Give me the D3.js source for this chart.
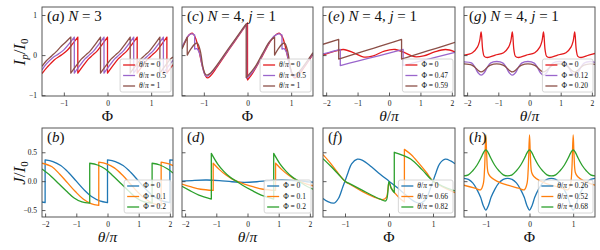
<!DOCTYPE html>
<html><head><meta charset="utf-8">
<script src="https://cdn.jsdelivr.net/npm/d3@7"></script>
<style>body{margin:0;background:#fff} svg{display:block} text{font-family:"Liberation Serif","DejaVu Serif",serif;fill:#111}</style>
</head><body><script>
// ---------- DATA ----------
const phiTicks=[-1,0,1], thTicks=[-2,-1,0,1,2], topYTicks=[-1,0,1], botYTicks=[-0.5,0,0.5];
const panelLabels=["(a) N = 3","(c) N = 4, j = 1","(e) N = 4, j = 1","(g) N = 4, j = 1","(b)","(d)","(f)","(h)"];
const legA=["θ/π = 0","θ/π = 0.5","θ/π = 1"];
const legC=["θ/π = 0","θ/π = 0.5","θ/π = 1"];
const legE=["Φ = 0","Φ = 0.47","Φ = 0.59"];
const legG=["Φ = 0","Φ = 0.12","Φ = 0.20"];
const legB=["Φ = 0","Φ = 0.1","Φ = 0.2"];
const legD=["Φ = 0","Φ = 0.1","Φ = 0.2"];
const legF=["θ/π = 0","θ/π = 0.66","θ/π = 0.82"];
const legH=["θ/π = 0.26","θ/π = 0.52","θ/π = 0.68"];

// panel a: I_p/I_0 vs Phi, N=3
const aRed=[[-1.5,-0.46],[-1.38,-0.3],[-1.22,-0.12],[-1.06,0.0],[-0.92,0.12],[-0.8,0.28],[-0.68,0.45],
[-0.68,-0.45],[-0.56,-0.27],[-0.44,-0.1],[-0.34,0],[-0.24,0.1],[-0.12,0.27],[0,0.45],
[0,-0.45],[0.12,-0.27],[0.24,-0.1],[0.34,0],[0.44,0.1],[0.56,0.27],[0.68,0.45],
[0.68,-0.45],[0.8,-0.27],[0.92,-0.1],[1.02,0],[1.12,0.1],[1.24,0.27],[1.36,0.45],
[1.36,-0.45],[1.48,-0.27],[1.5,-0.24]];
const aPurple=[[-1.5,-0.37],[-1.4,-0.22],[-1.26,-0.07],[-1.12,0.03],[-1.0,0.13],[-0.88,0.28],[-0.76,0.45],
[-0.76,-0.45],[-0.64,-0.27],[-0.52,-0.1],[-0.42,0],[-0.32,0.1],[-0.2,0.27],[-0.08,0.45],
[-0.08,-0.45],[0.04,-0.27],[0.16,-0.1],[0.26,0],[0.36,0.1],[0.48,0.27],[0.6,0.45],
[0.6,-0.45],[0.72,-0.27],[0.84,-0.1],[0.94,0],[1.04,0.1],[1.16,0.27],[1.28,0.45],
[1.28,-0.45],[1.4,-0.27],[1.5,-0.13]];
const aBrown=[[-1.5,-0.28],[-1.4,-0.14],[-1.28,-0.02],[-1.18,0.08],[-1.06,0.22],[-0.96,0.32],[-0.84,0.45],
[-0.84,-0.45],[-0.72,-0.27],[-0.6,-0.1],[-0.5,0],[-0.4,0.1],[-0.28,0.27],[-0.16,0.45],
[-0.16,-0.45],[-0.04,-0.27],[0.08,-0.1],[0.18,0],[0.28,0.1],[0.4,0.27],[0.52,0.45],
[0.52,-0.45],[0.64,-0.27],[0.76,-0.1],[0.86,0],[0.96,0.1],[1.08,0.27],[1.2,0.45],
[1.2,-0.45],[1.32,-0.27],[1.44,-0.1],[1.5,-0.05]];

// panel c
const cRed=[[-1.5,0.18],[-1.42,0.35],[-1.34,0.5],[-1.27,0.55],[-1.2,0.45],[-1.12,0.15],[-1.04,-0.25],[-0.97,-0.5],[-0.92,-0.57],[-0.85,-0.52],[-0.7,-0.3],[-0.5,0.02],[-0.3,0.33],[-0.15,0.57],[0,0.8],
[0,-0.62],[0.1,-0.48],[0.2,-0.3],[0.35,0.0],[0.5,0.3],[0.62,0.48],[0.72,0.55],[0.8,0.45],[0.88,0.15],[0.96,-0.25],[1.03,-0.5],[1.08,-0.57],[1.15,-0.52],[1.3,-0.3],[1.5,0.02]];
const cPurple=[[-1.5,0.2],[-1.42,0.37],[-1.34,0.5],[-1.27,0.53],[-1.21,0.5],
[-1.21,0.15],[-1.16,0.16],[-1.1,0.05],[-1.03,-0.3],[-0.97,-0.5],[-0.93,-0.53],[-0.86,-0.48],[-0.7,-0.27],[-0.5,0.04],[-0.3,0.35],[-0.15,0.58],[-0.02,0.78],
[-0.02,-0.58],[0.1,-0.44],[0.2,-0.28],[0.35,0.02],[0.5,0.32],[0.62,0.48],[0.72,0.53],[0.79,0.5],
[0.79,0.15],[0.84,0.16],[0.9,0.05],[0.97,-0.3],[1.03,-0.5],[1.07,-0.53],[1.14,-0.48],[1.3,-0.27],[1.5,0.04]];
const cBrown=[[-1.5,0.15],[-1.44,0.3],[-1.38,0.45],
[-1.38,0.0],[-1.3,0.15],[-1.2,0.28],[-1.15,0.3],[-1.08,0.1],[-1.02,-0.3],[-0.97,-0.47],[-0.93,-0.5],[-0.86,-0.46],[-0.7,-0.25],[-0.5,0.06],[-0.3,0.37],[-0.15,0.6],[-0.03,0.78],
[-0.03,-0.56],[0.1,-0.4],[0.2,-0.25],[0.35,0.05],[0.5,0.33],[0.62,0.45],
[0.62,0.0],[0.7,0.15],[0.8,0.28],[0.85,0.3],[0.92,0.1],[0.98,-0.3],[1.03,-0.47],[1.07,-0.5],[1.14,-0.46],[1.3,-0.25],[1.5,0.06]];

// panel e: vs theta/pi
const eRed=[[-2.1,0.0],[-1.8,0.08],[-1.45,0.14],[-1.1,0.05],[-0.8,-0.05],[-0.5,-0.02],[-0.15,0.1],[0.2,0.14],[0.5,0.06],[0.8,-0.04],[1.1,-0.02],[1.45,0.08],[1.8,0.14],[2.1,0.08]];
const ePurple=[[-2.1,0.03],[-1.8,0.09],[-1.55,0.14],[-1.55,-0.26],[-1.0,-0.15],[-0.5,-0.05],[0,0.05],[0.45,0.14],[0.45,-0.26],[1.0,-0.15],[1.5,-0.05],[2.1,0.07]];
const eBrown=[[-2.1,0.27],[-1.6,0.39],[-1.6,-0.1],[-1.0,0.05],[-0.5,0.17],[0,0.29],[0.4,0.39],[0.4,-0.1],[1.0,0.05],[1.5,0.17],[2.1,0.32]];

// panel g
const gRed=[[-2.1,0.0],[-1.83,0.06],[-1.67,0.2],[-1.6,0.35],[-1.55,0.58],[-1.5,0.13],[-1.45,-0.03],[-1.35,-0.06],[-1.1,0.0],
[-0.83,0.06],[-0.67,0.2],[-0.6,0.35],[-0.55,0.58],[-0.5,0.13],[-0.45,-0.03],[-0.35,-0.06],[-0.1,0.0],
[0.17,0.06],[0.33,0.2],[0.4,0.35],[0.45,0.58],[0.5,0.13],[0.55,-0.03],[0.65,-0.06],[0.9,0.0],
[1.17,0.06],[1.33,0.2],[1.4,0.35],[1.45,0.58],[1.5,0.13],[1.55,-0.03],[1.65,-0.06],[1.9,0.0],[2.1,0.04]];
const gPurple=[[-2.1,-0.17],[-1.85,-0.2],[-1.75,-0.3],[-1.65,-0.44],[-1.55,-0.5],[-1.45,-0.44],[-1.35,-0.3],[-1.25,-0.2],[-1.05,-0.16],
[-0.85,-0.2],[-0.75,-0.3],[-0.65,-0.44],[-0.55,-0.5],[-0.45,-0.44],[-0.35,-0.3],[-0.25,-0.2],[-0.05,-0.16],
[0.15,-0.2],[0.25,-0.3],[0.35,-0.44],[0.45,-0.5],[0.55,-0.44],[0.65,-0.3],[0.75,-0.2],[0.95,-0.16],
[1.15,-0.2],[1.25,-0.3],[1.35,-0.44],[1.45,-0.5],[1.55,-0.44],[1.65,-0.3],[1.75,-0.2],[1.95,-0.16],[2.1,-0.18]];
const gBrown=[[-2.1,-0.22],[-1.85,-0.25],[-1.75,-0.3],[-1.65,-0.38],[-1.55,-0.42],[-1.45,-0.38],[-1.35,-0.3],[-1.25,-0.25],[-1.05,-0.22],
[-0.85,-0.25],[-0.75,-0.3],[-0.65,-0.38],[-0.55,-0.42],[-0.45,-0.38],[-0.35,-0.3],[-0.25,-0.25],[-0.05,-0.22],
[0.15,-0.25],[0.25,-0.3],[0.35,-0.38],[0.45,-0.42],[0.55,-0.38],[0.65,-0.3],[0.75,-0.25],[0.95,-0.22],
[1.15,-0.25],[1.25,-0.3],[1.35,-0.38],[1.45,-0.42],[1.55,-0.38],[1.65,-0.3],[1.75,-0.25],[1.95,-0.22],[2.1,-0.23]];

// panel b: J/I_0 vs theta/pi
const bBlue=[[-2.1,-0.36],[-2,-0.37],[-2,0.37],[-1.75,0.34],[-1.5,0.27],[-1.25,0.15],[-1,0.0],[-0.75,-0.15],[-0.5,-0.27],[-0.25,-0.34],[0,-0.37],
[0,0.37],[0.25,0.34],[0.5,0.27],[0.75,0.15],[1,0.0],[1.25,-0.15],[1.5,-0.27],[1.75,-0.34],[2,-0.37],[2,0.37],[2.1,0.365]];
const bOrange=[[-2.1,0.31],[-1.78,0.25],[-1.53,0.12],[-1.28,-0.03],[-1.03,-0.18],[-0.78,-0.31],[-0.53,-0.39],[-0.28,-0.42],
[-0.28,0.33],[-0.03,0.3],[0.22,0.23],[0.47,0.11],[0.72,-0.04],[0.97,-0.19],[1.22,-0.31],[1.47,-0.39],[1.72,-0.42],[1.72,0.33],[1.97,0.3],[2.1,0.27]];
const bGreen=[[-2.1,0.21],[-1.82,0.09],[-1.57,-0.04],[-1.32,-0.17],[-1.07,-0.29],[-0.82,-0.36],[-0.57,-0.38],
[-0.57,0.31],[-0.32,0.28],[-0.07,0.21],[0.18,0.09],[0.43,-0.04],[0.68,-0.17],[0.93,-0.29],[1.18,-0.36],[1.43,-0.38],[1.43,0.31],[1.68,0.28],[1.93,0.21],[2.1,0.14]];

// panel d
const dBlue=[[-2.1,0.0],[-1.7,0.015],[-1.3,0.02],[-0.9,0.01],[-0.5,-0.01],[-0.1,-0.02],[0.3,-0.01],[0.7,0.01],[1.1,0.02],[1.5,0.01],[1.9,-0.01],[2.1,-0.015]];
const dOrange=[[-2.1,-0.05],[-1.8,-0.1],[-1.5,-0.14],[-1.1,-0.16],[-1.1,0.31],[-0.9,0.2],[-0.7,0.11],[-0.5,0.04],[-0.35,0.0],[-0.1,-0.05],[0.2,-0.1],[0.5,-0.14],[0.9,-0.16],[0.9,0.31],[1.1,0.2],[1.3,0.11],[1.5,0.04],[1.65,0.0],[1.9,-0.05],[2.1,-0.08]];
const dGreen=[[-2.1,-0.09],[-1.86,-0.16],[-1.56,-0.24],[-1.16,-0.31],[-1.16,0.48],[-0.96,0.3],[-0.76,0.17],[-0.56,0.07],[-0.36,0.0],[-0.16,-0.07],[0.14,-0.16],[0.44,-0.24],[0.84,-0.31],[0.84,0.48],[1.04,0.3],[1.24,0.17],[1.44,0.07],[1.64,0.0],[1.84,-0.07],[2.1,-0.14]];

// panel f: vs Phi
const fBlue=[[-1.5,-0.3],[-1.4,-0.35],[-1.25,-0.38],[-1.15,-0.3],[-1.05,-0.1],[-1.0,0.0],[-0.93,0.15],[-0.85,0.3],[-0.72,0.38],[-0.6,0.36],[-0.4,0.25],[-0.2,0.12],[0,0.0],
[0.2,-0.12],[0.4,-0.25],[0.6,-0.36],[0.72,-0.38],[0.85,-0.3],[0.93,-0.15],[1.0,0.0],[1.07,0.15],[1.15,0.3],[1.28,0.38],[1.4,0.35],[1.5,0.3]];
const fOrange=[[-1.5,0.46],[-1.35,0.33],[-1.2,0.18],[-1.0,0.0],[-0.85,-0.07],[-0.6,-0.18],[-0.35,-0.27],[-0.15,-0.32],[-0.06,-0.28],[0,-0.02],
[0.05,-0.12],[0.15,-0.22],[0.25,-0.3],[0.35,-0.36],[0.35,0.55],[0.5,0.46],[0.7,0.29],[0.85,0.15],[1.0,0.0],[1.15,-0.07],[1.3,-0.13],[1.5,-0.2]];
const fGreen=[[-1.5,0.39],[-1.3,0.24],[-1.15,0.12],[-1.0,0.0],[-0.85,-0.06],[-0.6,-0.16],[-0.4,-0.24],[-0.2,-0.31],[-0.07,-0.34],[0,-0.01],
[0.05,-0.12],[0.12,-0.2],[0.12,0.5],[0.3,0.45],[0.5,0.38],[0.75,0.2],[1.0,0.0],[1.2,-0.08],[1.5,-0.17]];

// panel h
const hBlue=[[-1.5,0.05],[-1.4,0.03],[-1.3,-0.03],[-1.2,-0.15],[-1.12,-0.28],[-1.06,-0.42],[-1.0,-0.5],[-0.94,-0.42],[-0.88,-0.28],[-0.8,-0.15],[-0.7,-0.03],[-0.6,0.03],[-0.5,0.05],
[-0.4,0.03],[-0.3,-0.03],[-0.2,-0.15],[-0.12,-0.28],[-0.06,-0.42],[0,-0.5],[0.06,-0.42],[0.12,-0.28],[0.2,-0.15],[0.3,-0.03],[0.4,0.03],[0.5,0.05],
[0.6,0.03],[0.7,-0.03],[0.8,-0.15],[0.88,-0.28],[0.94,-0.42],[1.0,-0.5],[1.06,-0.42],[1.12,-0.28],[1.2,-0.15],[1.3,-0.03],[1.4,0.03],[1.5,0.05]];
const hOrange=[[-1.5,-0.07],[-1.25,-0.12],[-1.12,-0.15],[-1.06,-0.05],[-1.03,0.2],[-1.0,0.8],[-0.98,0.45],[-0.95,0.15],[-0.9,0.08],[-0.75,0.0],
[-0.5,-0.07],[-0.25,-0.12],[-0.12,-0.15],[-0.06,-0.05],[-0.03,0.2],[0,0.8],[0.02,0.45],[0.05,0.15],[0.1,0.08],[0.25,0.0],
[0.5,-0.07],[0.75,-0.12],[0.88,-0.15],[0.94,-0.05],[0.97,0.2],[1.0,0.8],[1.02,0.45],[1.05,0.15],[1.1,0.08],[1.25,0.0],[1.5,-0.07]];
const hGreen=[[-1.5,0.09],[-1.4,0.11],[-1.3,0.18],[-1.2,0.28],[-1.1,0.42],[-1.05,0.5],[-1.0,0.54],[-0.95,0.5],[-0.9,0.42],[-0.8,0.28],[-0.7,0.18],[-0.6,0.11],[-0.5,0.09],
[-0.4,0.11],[-0.3,0.18],[-0.2,0.28],[-0.1,0.42],[-0.05,0.5],[0,0.54],[0.05,0.5],[0.1,0.42],[0.2,0.28],[0.3,0.18],[0.4,0.11],[0.5,0.09],
[0.6,0.11],[0.7,0.18],[0.8,0.28],[0.9,0.42],[0.95,0.5],[1.0,0.54],[1.05,0.5],[1.1,0.42],[1.2,0.28],[1.3,0.18],[1.4,0.11],[1.5,0.09]];

const topColors=["#e41a1c","#9a66cc","#8c5048"];
const botColors=["#1f77b4","#ff7f0e","#2ca02c"];

// ---------- LAYOUT ----------
const W=600,H=250;
const cols=[[42,173],[182,313],[323,455],[464,595]];
const rows=[[7,96],[128,217]];
const phiDom=[-1.5,1.5], thDom=[-2.1,2.1], topDom=[-1.02,1.2], botDom=[-0.62,0.92];

const panels=[
 {col:0,row:0,xd:phiDom,yd:topDom,xt:phiTicks,yt:topYTicks,series:[aRed,aPurple,aBrown],colors:topColors,leg:legA,label:panelLabels[0],xlab:"Φ"},
 {col:1,row:0,xd:phiDom,yd:topDom,xt:phiTicks,yt:topYTicks,series:[cRed,cPurple,cBrown],colors:topColors,leg:legC,label:panelLabels[1],xlab:"Φ"},
 {col:2,row:0,xd:thDom,yd:topDom,xt:thTicks,yt:topYTicks,series:[eRed,ePurple,eBrown],colors:topColors,leg:legE,label:panelLabels[2],xlab:"θ/π"},
 {col:3,row:0,xd:thDom,yd:topDom,xt:thTicks,yt:topYTicks,series:[gRed,gPurple,gBrown],colors:topColors,leg:legG,label:panelLabels[3],xlab:"θ/π"},
 {col:0,row:1,xd:thDom,yd:botDom,xt:thTicks,yt:botYTicks,series:[bBlue,bOrange,bGreen],colors:botColors,leg:legB,label:panelLabels[4],xlab:"θ/π"},
 {col:1,row:1,xd:thDom,yd:botDom,xt:thTicks,yt:botYTicks,series:[dBlue,dOrange,dGreen],colors:botColors,leg:legD,label:panelLabels[5],xlab:"θ/π"},
 {col:2,row:1,xd:phiDom,yd:botDom,xt:phiTicks,yt:botYTicks,series:[fBlue,fOrange,fGreen],colors:botColors,leg:legF,label:panelLabels[6],xlab:"Φ"},
 {col:3,row:1,xd:phiDom,yd:botDom,xt:phiTicks,yt:botYTicks,series:[hBlue,hOrange,hGreen],colors:botColors,leg:legH,label:panelLabels[7],xlab:"Φ"}
];

const svg=d3.select("body").append("svg").attr("width",W).attr("height",H);
const defs=svg.append("defs");

function mathText(sel,str){
  const runs=[];
  for(const ch of str){
    const it=/[a-zA-Zθπ]/.test(ch);
    if(runs.length && runs[runs.length-1].it===it) runs[runs.length-1].s+=ch; else runs.push({s:ch,it});
  }
  runs.forEach(r=>sel.append("tspan").attr("font-style",r.it?"italic":"normal").text(r.s));
  return sel;
}
const fmt=(d,dec)=>{let s=dec?d3.format(".1f")(d):String(d);return s.replace("-","−");};

function jumpPath(data,x,y){
  const segs=[];let cur=[data[0]];
  for(let i=1;i<data.length;i++){
    if(data[i][0]===data[i-1][0]){segs.push(cur);cur=[data[i]];} else cur.push(data[i]);
  }
  segs.push(cur);
  const line=d3.line().x(d=>x(d[0])).y(d=>y(d[1])).curve(d3.curveCatmullRom.alpha(0.5));
  return segs.map((s,i)=>{const p=line(s);return i===0?p:p.replace(/^M/,"L");}).join("");
}

panels.forEach((p,i)=>{
  const [x0,x1]=cols[p.col],[y0,y1]=rows[p.row];
  const x=d3.scaleLinear().domain(p.xd).range([x0,x1]);
  const y=d3.scaleLinear().domain(p.yd).range([y1,y0]);
  const g=svg.append("g");
  const cid="clip"+i;
  defs.append("clipPath").attr("id",cid).append("rect").attr("x",x0).attr("y",y0).attr("width",x1-x0).attr("height",y1-y0);
  const plot=g.append("g").attr("clip-path",`url(#${cid})`);
  p.series.forEach((s,k)=>{
    plot.append("path").attr("d",jumpPath(s,x,y)).attr("fill","none").attr("stroke",p.colors[k]).attr("stroke-width",1.3).attr("stroke-linejoin","round");
  });
  const dec=p.row===1;
  const xa=d3.axisBottom(x).tickValues(p.xt).tickSizeInner(-3.5).tickSizeOuter(0).tickPadding(5).tickFormat(d=>fmt(d,false));
  const gx=g.append("g").attr("transform",`translate(0,${y1})`).call(xa);
  const ya=d3.axisLeft(y).tickValues(p.yt).tickSizeInner(-3.5).tickSizeOuter(0).tickPadding(5).tickFormat(d=>p.col===0?fmt(d,dec):"");
  const gy=g.append("g").attr("transform",`translate(${x0},0)`).call(ya);
  [gx,gy].forEach(a=>{a.select(".domain").remove();a.selectAll("line").attr("stroke","#333").attr("stroke-width",0.8);
    a.selectAll("text").attr("font-family","Liberation Serif, serif").attr("font-size",7.5).attr("fill","#222");});
  g.append("rect").attr("x",x0).attr("y",y0).attr("width",x1-x0).attr("height",y1-y0).attr("fill","none").attr("stroke","#444").attr("stroke-width",0.9);
  mathText(g.append("text").attr("x",(x0+x1)/2).attr("y",p.row===0?121:242).attr("text-anchor","middle").attr("font-size",15.5),p.xlab);
  mathText(g.append("text").attr("x",x0+5).attr("y",y0+14).attr("font-size",15),p.label);
  const lg=g.append("g");
  const rect=lg.append("rect");
  const lt=y1-37;
  const texts=p.leg.map((t,k)=>mathText(lg.append("text").attr("y",lt+6+k*10.5).attr("dy","0.33em").attr("font-size",7.5),t));
  const tw=d3.max(texts,t=>t.node().getComputedTextLength());
  const w=tw+24, lx=x1-2-w;
  rect.attr("x",lx).attr("y",lt).attr("width",w).attr("height",33).attr("rx",2).attr("fill","#fff").attr("fill-opacity",0.8).attr("stroke","#ccc").attr("stroke-width",0.8);
  texts.forEach((t,k)=>{
    t.attr("x",lx+19);
    lg.append("line").attr("x1",lx+3).attr("x2",lx+15).attr("y1",lt+6+k*10.5).attr("y2",lt+6+k*10.5).attr("stroke",p.colors[k]).attr("stroke-width",1.3);
  });
});

function yLabel(cx,cy,main){
  const t=svg.append("text").attr("transform",`translate(${cx},${cy}) rotate(-90)`).attr("text-anchor","middle").attr("font-size",17);
  t.append("tspan").attr("font-style","italic").text(main);
  if(main==="I") t.append("tspan").attr("font-style","italic").attr("font-size",11).attr("dy",3).text("p");
  t.append("tspan").attr("dy",main==="I"?-3:0).text("/");
  t.append("tspan").attr("font-style","italic").text("I");
  t.append("tspan").attr("font-size",11).attr("dy",3).text("0");
}
yLabel(25,52,"I");
yLabel(25,173,"J");
</script></body></html>
